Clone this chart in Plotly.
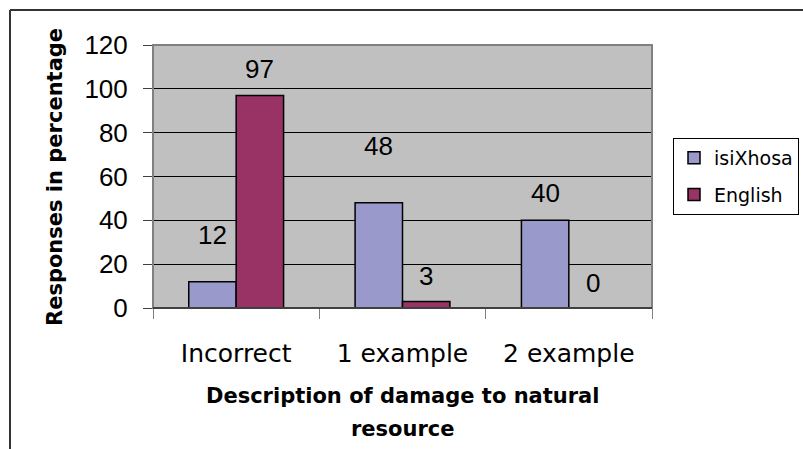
import plotly.graph_objects as go

categories = ["Incorrect", "1 example", "2 example"]
isixhosa = [12, 48, 40]
english = [97, 3, 0]
y_ticks = [0, 20, 40, 60, 80, 100, 120]

# vertical pixel lift of each value label above its bar (isiXhosa, English)
label_lift_xh = [47, 57, 27]
label_lift_en = [26, 25, 25]

W, H = 803, 449
L, R, T, B = 153, 652, 45, 308  # plot area edges in pixels


def px_x(p):
    return (p - L) / (R - L)


def px_y(p):
    return (B - p) / (B - T)


NUM_FONT = "Liberation Sans, Arial, sans-serif"
WORD_FONT = "DejaVu Sans, sans-serif"
BARGAP = 0.43

fig = go.Figure()
fig.add_trace(go.Bar(
    name="isiXhosa", x=categories, y=isixhosa,
    marker=dict(color="#9999cc", line=dict(color="#000000", width=1.5)),
    legendgroup="a",
))
fig.add_trace(go.Bar(
    name="English", x=categories, y=english,
    marker=dict(color="#993366", line=dict(color="#000000", width=1.5)),
    legendgroup="b",
))

# value labels over the bars
bar_px = (R - L) / len(categories) * (1 - BARGAP) / 2
annotations = []
for i, cat in enumerate(categories):
    for vals, lifts, sgn in ((isixhosa, label_lift_xh, -1), (english, label_lift_en, 1)):
        annotations.append(dict(
            x=cat, y=vals[i], xref="x", yref="y", text=str(vals[i]),
            showarrow=False, xshift=sgn * bar_px / 2, yshift=lifts[i],
            yanchor="middle", xanchor="center",
            font=dict(family=NUM_FONT, size=26, color="#000000"),
        ))

# axis titles
annotations.append(dict(
    x=px_x(55), y=px_y(177), xref="paper", yref="paper",
    text="<b>Responses in percentage</b>", textangle=-90, showarrow=False,
    xanchor="center", yanchor="middle",
    font=dict(family=WORD_FONT, size=21, color="#000000"),
))
annotations.append(dict(
    x=px_x(402), y=px_y(396), xref="paper", yref="paper",
    text="<b>Description of damage to natural</b>", showarrow=False,
    xanchor="center", yanchor="middle",
    font=dict(family=WORD_FONT, size=21, color="#000000"),
))
annotations.append(dict(
    x=px_x(403), y=px_y(429), xref="paper", yref="paper",
    text="<b>resource</b>", showarrow=False,
    xanchor="center", yanchor="middle",
    font=dict(family=WORD_FONT, size=21, color="#000000"),
))

shapes = [
    # plot area border
    dict(type="rect", xref="paper", yref="paper", x0=0, x1=1, y0=0, y1=1,
         line=dict(color="#808080", width=2), layer="above"),
    # outer frame
    dict(type="line", xref="paper", yref="paper",
         x0=px_x(10), x1=px_x(W + 5), y0=px_y(10), y1=px_y(10),
         line=dict(color="#333333", width=2)),
    dict(type="line", xref="paper", yref="paper",
         x0=px_x(10), x1=px_x(10), y0=px_y(10), y1=px_y(H + 5),
         line=dict(color="#333333", width=2)),
    # baseline
    dict(type="line", xref="paper", yref="paper", x0=0, x1=1, y0=0, y1=0,
         line=dict(color="#404040", width=2), layer="above"),
]

fig.update_layout(
    width=W, height=H,
    margin=dict(l=L, r=W - R, t=T, b=H - B, pad=0, autoexpand=False),
    paper_bgcolor="#ffffff",
    plot_bgcolor="#c0c0c0",
    barmode="group", bargap=BARGAP, bargroupgap=0,
    font=dict(family=NUM_FONT, color="#000000"),
    showlegend=True,
    legend=dict(
        x=px_x(673), y=px_y(138), xanchor="left", yanchor="top",
        bordercolor="#000000", borderwidth=1, bgcolor="#ffffff",
        font=dict(family=WORD_FONT, size=19, color="#000000"),
        itemwidth=30, tracegroupgap=9, traceorder="grouped",
    ),
    annotations=annotations,
    shapes=shapes,
    xaxis=dict(
        type="category", showgrid=False, zeroline=False, showline=False,
        ticks="outside", tickson="boundaries", ticklen=10, tickcolor="#808080",
        tickwidth=1, tickfont=dict(family=WORD_FONT, size=25, color="#000000"),
        ticklabelstandoff=28,
    ),
    yaxis=dict(
        range=[0, 120], tickvals=y_ticks, showgrid=True, gridcolor="#000000",
        gridwidth=1, zeroline=False, showline=False,
        ticks="outside", ticklen=9, tickcolor="#404040", tickwidth=1,
        tickfont=dict(family=NUM_FONT, size=26, color="#000000"),
        ticklabelstandoff=10,
    ),
)

fig.write_html("out.html")
